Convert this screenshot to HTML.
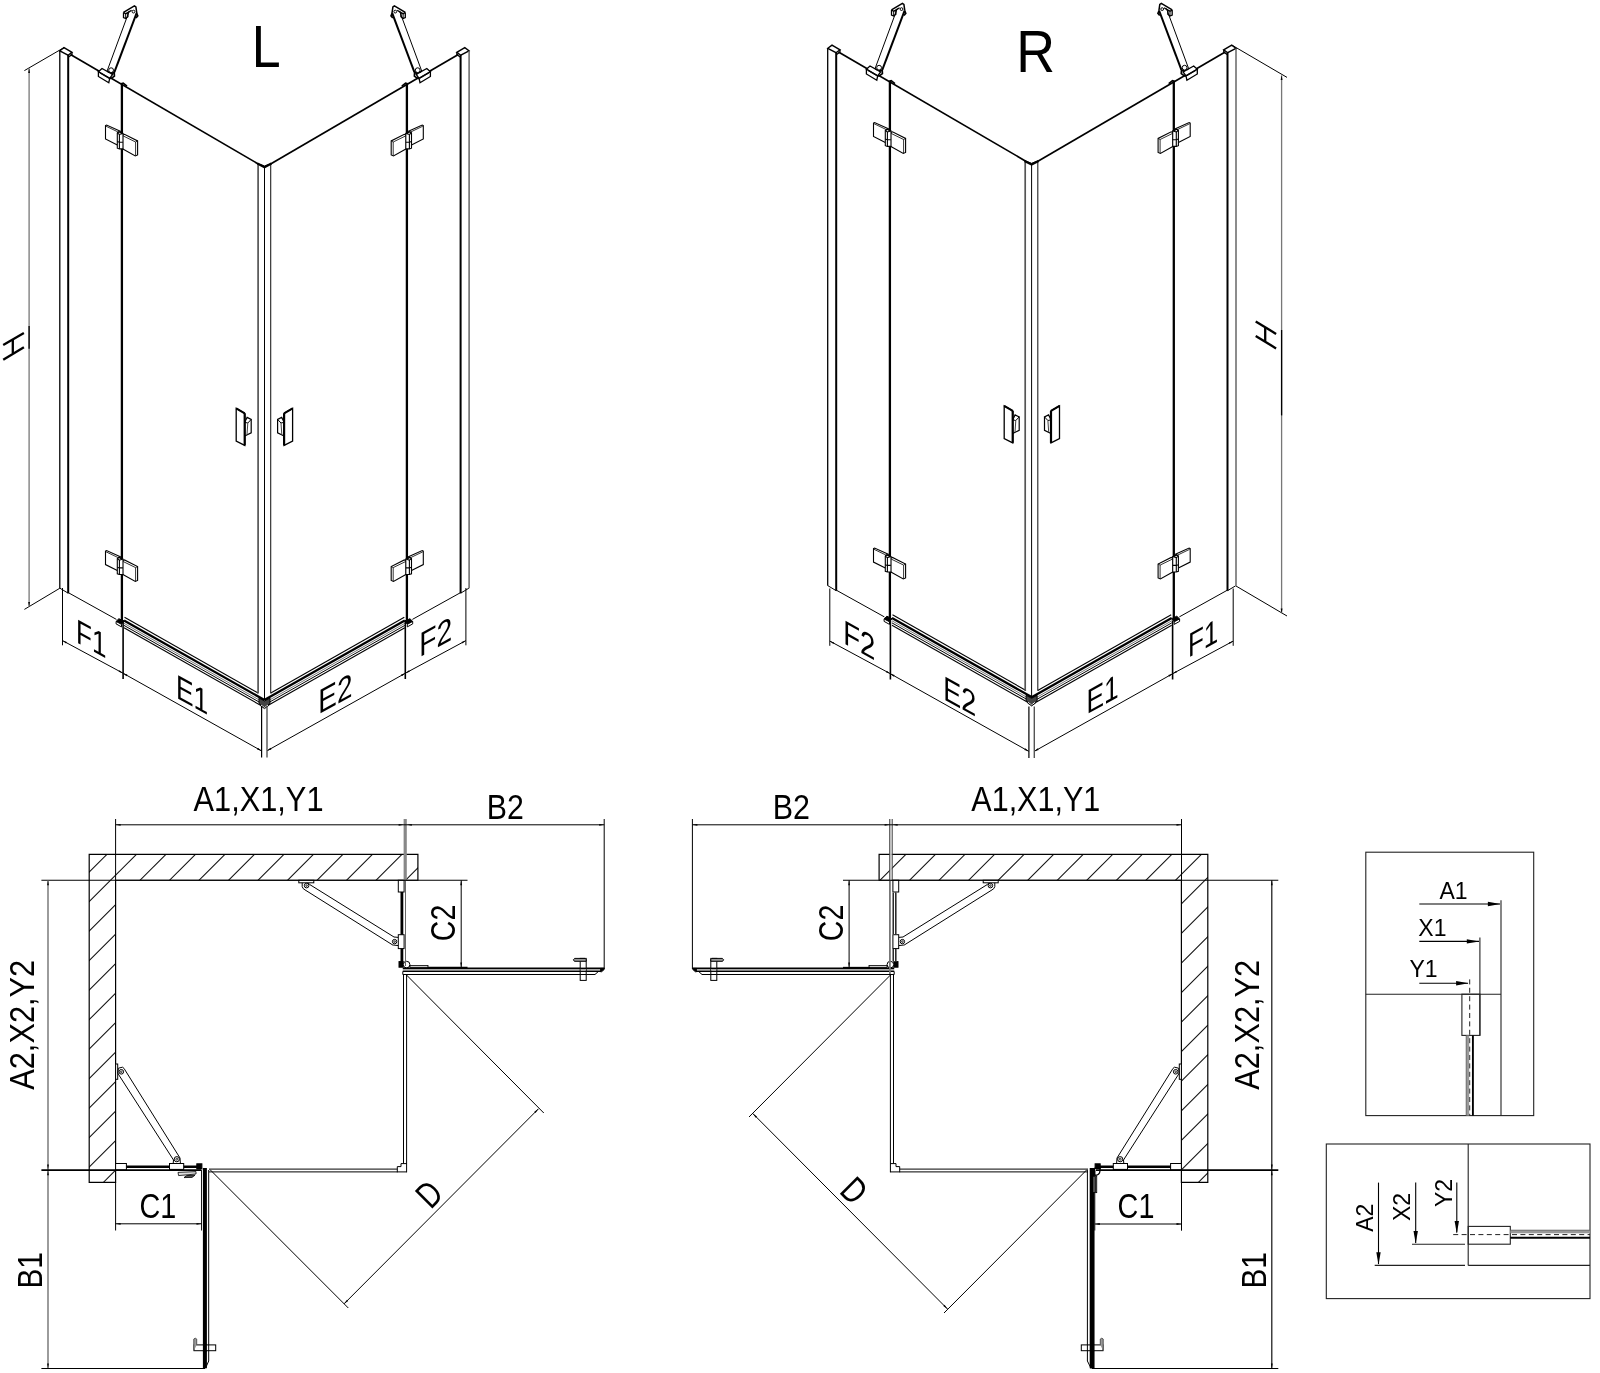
<!DOCTYPE html>
<html><head><meta charset="utf-8"><title>Shower enclosure dimensions</title>
<style>
html,body{margin:0;padding:0;background:#fff;}
body{width:1600px;height:1373px;overflow:hidden;}
svg{display:block;will-change:transform;filter:grayscale(1);}
text{font-family:"Liberation Sans",sans-serif;fill:#000;}
</style></head>
<body>
<svg width="1600" height="1373" viewBox="0 0 1600 1373" fill="none" stroke-linecap="butt" stroke-linejoin="miter">
<rect x="0" y="0" width="1600" height="1373" fill="#fff"/>
<defs>
<g id="isoH"><line x1="68.20" y1="55.00" x2="68.20" y2="593.20" stroke="#000" stroke-width="2.0" /><path d="M59.90 588.20 L68.20 593.20" stroke="#000" stroke-width="1.0" fill="none" /><path d="M59.80 50.80 L64.00 47.60 L72.00 52.40 L68.00 55.20 Z" stroke="#000" stroke-width="1.4" fill="none" /><path d="M72.00 52.40 L72.00 54.60 L68.20 57.20" stroke="#000" stroke-width="1.2" fill="none" /><line x1="70.50" y1="54.60" x2="258.20" y2="163.90" stroke="#000" stroke-width="1.7" /><line x1="121.90" y1="83.60" x2="121.90" y2="620.50" stroke="#000" stroke-width="2.3" /><path d="M121.00 83.80 L123.20 83.20 L127.00 86.20" stroke="#000" stroke-width="1.6" fill="none" /><line x1="68.20" y1="592.60" x2="116.40" y2="619.40" stroke="#000" stroke-width="1.0" /><path d="M116.10 621.40 L118.90 618.70 L124.00 621.20 L121.50 624.30 Z" stroke="#000" stroke-width="1.0" fill="#000" /><path d="M116.10 621.40 L116.10 623.90 L121.50 626.90 L121.50 624.30" stroke="#000" stroke-width="1.0" fill="none" /><line x1="124.50" y1="617.30" x2="258.00" y2="692.99" stroke="#000" stroke-width="1.1" /><line x1="124.00" y1="620.42" x2="264.50" y2="700.08" stroke="#000" stroke-width="2.3" /><line x1="124.00" y1="623.32" x2="264.50" y2="702.98" stroke="#777" stroke-width="1.0" /><line x1="124.00" y1="625.42" x2="264.50" y2="705.08" stroke="#000" stroke-width="1.0" /><line x1="124.00" y1="627.82" x2="264.50" y2="707.48" stroke="#000" stroke-width="1.1" /><path d="M120.90 131.50 L106.60 125.00 L105.50 125.60 L105.50 139.00 L117.30 145.00" stroke="#000" stroke-width="1.1" fill="none" /><path d="M106.00 126.20 L117.90 131.90" stroke="#000" stroke-width="0.8" fill="none" /><path d="M117.30 133.00 L119.00 131.60 L123.00 133.40 L123.00 148.90 L119.40 148.90 L117.30 148.20 Z" stroke="#000" stroke-width="1.1" fill="#fff" /><path d="M119.40 134.50 L119.40 148.90" stroke="#000" stroke-width="1.1" fill="none" /><path d="M117.30 133.00 L119.00 131.80 L122.50 133.60 L119.40 134.50 L117.30 133.00" stroke="#000" stroke-width="1.1" fill="none" /><path d="M117.30 141.60 L119.40 142.30 L122.90 142.30" stroke="#000" stroke-width="1.1" fill="none" /><path d="M122.90 148.90 L135.30 155.90 L137.60 154.90 L137.60 140.90 L124.50 134.30 L123.10 134.90" stroke="#000" stroke-width="1.1" fill="none" /><path d="M123.10 135.90 L135.60 142.00 L135.60 155.60" stroke="#000" stroke-width="0.8" fill="none" /><path d="M135.60 142.00 L137.60 140.90" stroke="#000" stroke-width="0.8" fill="none" /><g transform="translate(0,425.6)"><path d="M120.90 131.50 L106.60 125.00 L105.50 125.60 L105.50 139.00 L117.30 145.00" stroke="#000" stroke-width="1.1" fill="none" /><path d="M106.00 126.20 L117.90 131.90" stroke="#000" stroke-width="0.8" fill="none" /><path d="M117.30 133.00 L119.00 131.60 L123.00 133.40 L123.00 148.90 L119.40 148.90 L117.30 148.20 Z" stroke="#000" stroke-width="1.1" fill="#fff" /><path d="M119.40 134.50 L119.40 148.90" stroke="#000" stroke-width="1.1" fill="none" /><path d="M117.30 133.00 L119.00 131.80 L122.50 133.60 L119.40 134.50 L117.30 133.00" stroke="#000" stroke-width="1.1" fill="none" /><path d="M117.30 141.60 L119.40 142.30 L122.90 142.30" stroke="#000" stroke-width="1.1" fill="none" /><path d="M122.90 148.90 L135.30 155.90 L137.60 154.90 L137.60 140.90 L124.50 134.30 L123.10 134.90" stroke="#000" stroke-width="1.1" fill="none" /><path d="M123.10 135.90 L135.60 142.00 L135.60 155.60" stroke="#000" stroke-width="0.8" fill="none" /><path d="M135.60 142.00 L137.60 140.90" stroke="#000" stroke-width="0.8" fill="none" /></g><line x1="107.10" y1="71.00" x2="129.30" y2="10.90" stroke="#000" stroke-width="1.0" /><line x1="114.40" y1="72.10" x2="136.60" y2="13.10" stroke="#000" stroke-width="2.0" /><path d="M123.50 12.40 L134.40 5.80 L135.90 6.90 L136.80 13.20" stroke="#000" stroke-width="1.5" fill="none" /><path d="M123.50 12.40 L123.50 17.50 L125.70 18.60 L127.90 16.80 L127.90 12.60 L125.70 13.70 L123.50 12.40" stroke="#000" stroke-width="1.3" fill="none" /><path d="M125.70 13.70 L125.70 18.60" stroke="#000" stroke-width="1.0" fill="none" /><path d="M127.90 12.60 L131.60 10.20" stroke="#000" stroke-width="1.3" fill="none" /><circle cx="133.50" cy="11.60" r="1.4" stroke="#000" stroke-width="1.0" fill="none"/><path d="M136.60 13.10 L137.80 15.80 L136.00 18.00" stroke="#000" stroke-width="1.6" fill="none" /><path d="M98.40 71.70 L102.00 68.50 L112.60 74.40 L109.70 78.30 Z" stroke="#000" stroke-width="1.3" fill="#fff" /><path d="M98.40 71.70 L98.40 76.50 L108.80 82.70 L109.70 78.30 Z" stroke="#000" stroke-width="1.3" fill="#fff" /><path d="M99.80 73.00 L109.20 78.60" stroke="#000" stroke-width="0.9" fill="none" /><circle cx="111.10" cy="70.20" r="2.4" stroke="#000" stroke-width="1.0" fill="none"/><path d="M107.10 71.00 L109.00 72.40" stroke="#000" stroke-width="1.2" fill="none" /><path d="M111.10 73.60 L114.20 72.40 L114.40 76.20 L111.60 78.20 L109.70 78.30" stroke="#000" stroke-width="1.7" fill="none" /><path d="M236.20 408.40 L244.70 413.30 L244.70 445.40 L236.20 441.00 Z" stroke="#000" stroke-width="1.3" fill="none" /><line x1="244.70" y1="413.30" x2="244.70" y2="445.40" stroke="#000" stroke-width="2.2" /><path d="M236.20 408.40 L244.70 413.30" stroke="#000" stroke-width="2.0" fill="none" /><path d="M244.70 422.20 L247.10 417.40 L251.20 419.40 L251.20 432.80 L244.70 436.00" stroke="#000" stroke-width="1.2" fill="none" /><path d="M245.00 422.40 L247.80 423.00 L251.20 419.40" stroke="#000" stroke-width="1.0" fill="none" /><path d="M247.80 423.00 L247.00 434.60" stroke="#444" stroke-width="1.0" fill="none" /></g>
<g id="isoDH"><line x1="62.50" y1="588.00" x2="62.50" y2="645.30" stroke="#000" stroke-width="1.0" /><line x1="123.10" y1="620.00" x2="123.10" y2="679.00" stroke="#000" stroke-width="1.6" /><line x1="62.50" y1="640.60" x2="123.00" y2="673.20" stroke="#000" stroke-width="1.0" /><path d="M62.50 640.60 L66.89 641.94 L66.04 643.53 Z" fill="#000"/><path d="M123.00 673.20 L118.61 671.86 L119.46 670.27 Z" fill="#000"/><line x1="123.00" y1="673.20" x2="261.40" y2="750.80" stroke="#000" stroke-width="1.0" /><path d="M123.00 673.20 L127.36 674.62 L126.48 676.19 Z" fill="#000"/><path d="M261.40 750.80 L257.04 749.38 L257.92 747.81 Z" fill="#000"/></g>
<g id="isoHM"><use href="#isoH" transform="translate(528.8,0) scale(-1,1)"/></g>
<g id="isoC"><line x1="258.10" y1="164.00" x2="258.10" y2="693.50" stroke="#555" stroke-width="1.7" /><line x1="264.50" y1="167.00" x2="264.50" y2="700.00" stroke="#000" stroke-width="1.0" /><line x1="270.70" y1="164.00" x2="270.70" y2="693.50" stroke="#222" stroke-width="1.1" /><path d="M257.40 163.60 L264.50 167.20 L271.40 163.60" stroke="#000" stroke-width="2.2" fill="none" /><path d="M259.50 164.00 L264.50 166.00 L269.50 164.00" stroke="#000" stroke-width="1.0" fill="none" /><path d="M259.00 698.00 L264.50 701.00 L270.00 698.00 L270.00 703.60 L264.50 707.40 L259.00 703.60 Z" stroke="#000" stroke-width="1.0" fill="#444" /><path d="M261.00 705.00 L264.50 707.60 L268.00 705.00" stroke="#fff" stroke-width="1.0" fill="none" /><path d="M260.40 705.60 L264.50 708.60 L268.60 705.60" stroke="#000" stroke-width="1.0" fill="none" /></g>
<g id="isoG"><use href="#isoH"/><use href="#isoHM"/><use href="#isoC"/></g>
<g id="isoD"><use href="#isoDH"/><use href="#isoDH" transform="translate(528.4,0) scale(-1,1)"/><line x1="261.60" y1="706.00" x2="261.60" y2="757.50" stroke="#000" stroke-width="1.2" /><line x1="267.00" y1="706.00" x2="267.00" y2="757.50" stroke="#555" stroke-width="1.4" /></g>
</defs>
<use href="#isoG"/>
<use href="#isoD"/>
<use href="#isoH" transform="translate(768.0,-2.5)"/>
<use href="#isoHM" transform="translate(766.9,-2.5)"/>
<use href="#isoC" transform="translate(767.1,-2.7)"/>
<use href="#isoD" transform="translate(767.3,0.5)"/>
<line x1="59.80" y1="51.00" x2="59.80" y2="588.20" stroke="#000" stroke-width="1.3" />
<line x1="469.10" y1="51.00" x2="469.10" y2="588.20" stroke="#666" stroke-width="1.5" />
<line x1="827.70" y1="48.50" x2="827.70" y2="585.80" stroke="#000" stroke-width="1.3" />
<line x1="1236.00" y1="48.50" x2="1236.00" y2="585.80" stroke="#666" stroke-width="1.5" />
<line x1="64.00" y1="47.60" x2="24.40" y2="70.60" stroke="#000" stroke-width="1.0" />
<line x1="59.90" y1="588.20" x2="24.40" y2="609.40" stroke="#000" stroke-width="1.0" />
<line x1="29.10" y1="68.50" x2="29.10" y2="606.50" stroke="#777" stroke-width="1.3" />
<line x1="29.10" y1="326.00" x2="29.10" y2="348.70" stroke="#000" stroke-width="1.3" />
<path d="M29.10 68.00 L30.00 73.00 L28.20 73.00 Z" fill="#000"/>
<path d="M29.10 607.00 L28.20 602.00 L30.00 602.00 Z" fill="#000"/>
<path d="M3.20 344.90 L23.90 333.00" stroke="#000" stroke-width="2.3" fill="none" />
<path d="M3.20 359.70 L23.90 347.20" stroke="#000" stroke-width="2.3" fill="none" />
<path d="M12.80 340.00 L12.80 353.00" stroke="#000" stroke-width="2.3" fill="none" />
<line x1="1232.00" y1="45.20" x2="1287.00" y2="77.40" stroke="#000" stroke-width="1.0" />
<line x1="1236.00" y1="586.00" x2="1287.00" y2="616.00" stroke="#000" stroke-width="1.0" />
<line x1="1281.60" y1="75.50" x2="1281.60" y2="613.00" stroke="#777" stroke-width="1.3" />
<line x1="1281.60" y1="330.00" x2="1281.60" y2="415.40" stroke="#000" stroke-width="1.3" />
<path d="M1281.60 75.00 L1282.50 80.00 L1280.70 80.00 Z" fill="#000"/>
<path d="M1281.60 613.40 L1280.70 608.40 L1282.50 608.40 Z" fill="#000"/>
<path d="M1255.70 321.50 L1276.10 333.90" stroke="#000" stroke-width="2.3" fill="none" />
<path d="M1255.70 336.00 L1276.10 348.40" stroke="#000" stroke-width="2.3" fill="none" />
<path d="M1265.20 327.70 L1265.20 341.20" stroke="#000" stroke-width="2.3" fill="none" />
<text font-size="59" transform="translate(251.8,67) scale(0.88,1)">L</text>
<text font-size="59" transform="translate(1016.2,72) scale(0.91,1)">R</text>
<text font-size="34" transform="matrix(0.765 0.421 0 1 76.00 642.00)">F1</text>
<text font-size="34" transform="matrix(0.775 0.426 0 1 176.00 697.50)">E1</text>
<text font-size="34" transform="matrix(0.82 -0.451 0 1 318.30 714.50)">E2</text>
<text font-size="34" transform="matrix(0.83 -0.457 0 1 419.20 657.50)">F2</text>
<text font-size="34" transform="matrix(0.81 0.446 0 1 843.30 643.00)">F2</text>
<text font-size="34" transform="matrix(0.79 0.435 0 1 943.30 699.00)">E2</text>
<text font-size="34" transform="matrix(0.775 -0.426 0 1 1086.40 714.50)">E1</text>
<text font-size="34" transform="matrix(0.765 -0.421 0 1 1187.90 658.00)">F1</text>
<defs>
<g id="planG"><path d="M89.20 854.40 L417.90 854.40 L417.90 880.25 L115.60 880.25 L115.60 1182.40 L89.20 1182.40 Z" stroke="#000" stroke-width="1.2" fill="none" /><rect x="398.30" y="880.25" width="5.80" height="11.75" stroke="#000" stroke-width="1.0" fill="#fff"/><line x1="401.90" y1="892.00" x2="401.90" y2="963.00" stroke="#000" stroke-width="2.8" /><rect x="298.80" y="880.25" width="15.00" height="2.55" stroke="#000" stroke-width="1.0" fill="#fff"/><circle cx="306.60" cy="885.60" r="2.3" stroke="#000" stroke-width="1.0" fill="none"/><circle cx="306.60" cy="885.60" r="0.8" stroke="#000" stroke-width="0.8" fill="none"/><line x1="309.50" y1="884.40" x2="394.00" y2="937.00" stroke="#000" stroke-width="1.0" /><line x1="305.00" y1="889.90" x2="393.20" y2="945.30" stroke="#000" stroke-width="1.0" /><path d="M309.50 884.40 L308.00 882.80" stroke="#000" stroke-width="1.0" fill="none" /><path d="M302.20 882.80 L302.20 886.60 L303.20 888.60 L305.00 889.90" stroke="#000" stroke-width="1.0" fill="none" /><circle cx="394.60" cy="941.60" r="2.2" stroke="#000" stroke-width="1.0" fill="none"/><circle cx="394.60" cy="941.60" r="0.8" stroke="#000" stroke-width="0.8" fill="none"/><path d="M394.00 937.00 L398.30 937.40" stroke="#000" stroke-width="1.0" fill="none" /><path d="M393.20 945.00 L398.30 945.60" stroke="#000" stroke-width="1.0" fill="none" /><rect x="398.30" y="934.70" width="5.80" height="13.90" stroke="#000" stroke-width="1.0" fill="#fff"/><rect x="399.00" y="961.60" width="4.20" height="5.60" stroke="#000" stroke-width="1.0" fill="#000"/><circle cx="406.60" cy="964.60" r="3.3" stroke="#000" stroke-width="1.0" fill="#fff"/><rect x="410.00" y="965.60" width="18.00" height="1.80" stroke="#000" stroke-width="0.8" fill="#ccc"/><rect x="402.80" y="968.40" width="199.20" height="2.80" stroke="none" stroke-width="0" fill="#aaa"/><line x1="402.80" y1="968.30" x2="604.40" y2="968.30" stroke="#000" stroke-width="1.4" /><line x1="402.80" y1="971.30" x2="601.00" y2="971.30" stroke="#000" stroke-width="1.3" /><path d="M402.80 971.50 L402.80 974.50 L595.00 974.50 L598.00 971.80" stroke="#000" stroke-width="1.0" fill="none" /><path d="M600.50 968.40 L604.20 968.40 L604.20 969.60 L601.60 971.80 L600.50 971.80 Z" stroke="#000" stroke-width="0.8" fill="#000" /><rect x="580.20" y="958.40" width="6.00" height="22.00" stroke="#000" stroke-width="1.0" fill="#fff"/><path d="M580.20 961.30 L574.40 961.30 L573.40 959.80 L574.60 958.40 L585.00 958.40 L586.20 959.60 L586.20 961.30 Z" stroke="#000" stroke-width="1.0" fill="#999" /><line x1="580.20" y1="968.30" x2="586.20" y2="968.30" stroke="#000" stroke-width="1.4" /><line x1="580.20" y1="971.30" x2="586.20" y2="971.30" stroke="#000" stroke-width="1.3" /><line x1="580.20" y1="974.50" x2="586.20" y2="974.50" stroke="#000" stroke-width="1.0" /><rect x="580.80" y="969.00" width="4.80" height="1.60" stroke="none" stroke-width="0" fill="#aaa"/><line x1="403.50" y1="974.00" x2="403.50" y2="1163.60" stroke="#000" stroke-width="1.0" /><line x1="406.60" y1="974.00" x2="406.60" y2="1172.30" stroke="#000" stroke-width="1.0" /><line x1="209.00" y1="1169.10" x2="397.30" y2="1169.10" stroke="#000" stroke-width="1.0" /><line x1="209.00" y1="1171.90" x2="406.80" y2="1171.90" stroke="#000" stroke-width="1.0" /><path d="M397.30 1172.30 L397.30 1166.60 L401.00 1166.60 L401.00 1163.60 L406.80 1163.60" stroke="#000" stroke-width="1.0" fill="none" /><rect x="115.60" y="1163.50" width="10.80" height="6.50" stroke="#000" stroke-width="1.0" fill="#fff"/><line x1="126.40" y1="1166.80" x2="197.50" y2="1166.80" stroke="#000" stroke-width="2.6" /><rect x="115.60" y="1064.00" width="2.10" height="15.30" stroke="#000" stroke-width="1.0" fill="#fff"/><circle cx="121.30" cy="1071.80" r="2.3" stroke="#000" stroke-width="1.0" fill="none"/><circle cx="121.30" cy="1071.80" r="0.8" stroke="#000" stroke-width="0.8" fill="none"/><line x1="124.00" y1="1068.40" x2="180.00" y2="1158.00" stroke="#000" stroke-width="1.0" /><line x1="118.90" y1="1075.00" x2="173.50" y2="1160.00" stroke="#000" stroke-width="1.0" /><path d="M124.00 1068.40 L122.50 1067.20 L118.40 1068.20 L117.80 1073.00 L118.90 1075.00" stroke="#000" stroke-width="1.0" fill="none" /><circle cx="176.80" cy="1159.20" r="2.6" stroke="#000" stroke-width="1.0" fill="none"/><circle cx="176.80" cy="1159.20" r="1.0" stroke="#000" stroke-width="0.8" fill="none"/><path d="M180.00 1158.00 L180.40 1163.50" stroke="#000" stroke-width="1.0" fill="none" /><path d="M173.50 1160.00 L173.20 1163.50" stroke="#000" stroke-width="1.0" fill="none" /><rect x="169.50" y="1163.50" width="14.20" height="5.90" stroke="#000" stroke-width="1.0" fill="#fff"/><rect x="196.80" y="1163.80" width="5.10" height="5.20" stroke="#000" stroke-width="1.0" fill="#000"/><line x1="204.90" y1="1168.00" x2="204.90" y2="1368.20" stroke="#000" stroke-width="4.0" /><rect x="194.00" y="1344.90" width="21.70" height="5.80" stroke="#000" stroke-width="1.0" fill="#fff"/><line x1="204.90" y1="1344.00" x2="204.90" y2="1351.60" stroke="#000" stroke-width="4.0" /><path d="M193.80 1350.70 L193.80 1339.00 L195.20 1338.20 L196.70 1339.00 L196.70 1344.90" stroke="#555" stroke-width="1.0" fill="#999" /></g>
<clipPath id="wallL"><path d="M89 854.4 L417.9 854.4 L417.9 880.25 L115.6 880.25 L115.6 1182.4 L89 1182.4 Z"/></clipPath>
<clipPath id="wallR"><path d="M1208 854.4 L879.1 854.4 L879.1 880.25 L1181.4 880.25 L1181.4 1182.4 L1208 1182.4 Z"/></clipPath>
</defs>
<g clip-path="url(#wallL)"><line x1="-232.70" y1="840.00" x2="-592.70" y2="1200.00" stroke="#111" stroke-width="1.05" /><line x1="-203.20" y1="840.00" x2="-563.20" y2="1200.00" stroke="#111" stroke-width="1.05" /><line x1="-173.70" y1="840.00" x2="-533.70" y2="1200.00" stroke="#111" stroke-width="1.05" /><line x1="-144.20" y1="840.00" x2="-504.20" y2="1200.00" stroke="#111" stroke-width="1.05" /><line x1="-114.70" y1="840.00" x2="-474.70" y2="1200.00" stroke="#111" stroke-width="1.05" /><line x1="-85.20" y1="840.00" x2="-445.20" y2="1200.00" stroke="#111" stroke-width="1.05" /><line x1="-55.70" y1="840.00" x2="-415.70" y2="1200.00" stroke="#111" stroke-width="1.05" /><line x1="-26.20" y1="840.00" x2="-386.20" y2="1200.00" stroke="#111" stroke-width="1.05" /><line x1="3.30" y1="840.00" x2="-356.70" y2="1200.00" stroke="#111" stroke-width="1.05" /><line x1="32.80" y1="840.00" x2="-327.20" y2="1200.00" stroke="#111" stroke-width="1.05" /><line x1="62.30" y1="840.00" x2="-297.70" y2="1200.00" stroke="#111" stroke-width="1.05" /><line x1="91.80" y1="840.00" x2="-268.20" y2="1200.00" stroke="#111" stroke-width="1.05" /><line x1="121.30" y1="840.00" x2="-238.70" y2="1200.00" stroke="#111" stroke-width="1.05" /><line x1="150.80" y1="840.00" x2="-209.20" y2="1200.00" stroke="#111" stroke-width="1.05" /><line x1="180.30" y1="840.00" x2="-179.70" y2="1200.00" stroke="#111" stroke-width="1.05" /><line x1="209.80" y1="840.00" x2="-150.20" y2="1200.00" stroke="#111" stroke-width="1.05" /><line x1="239.30" y1="840.00" x2="-120.70" y2="1200.00" stroke="#111" stroke-width="1.05" /><line x1="268.80" y1="840.00" x2="-91.20" y2="1200.00" stroke="#111" stroke-width="1.05" /><line x1="298.30" y1="840.00" x2="-61.70" y2="1200.00" stroke="#111" stroke-width="1.05" /><line x1="327.80" y1="840.00" x2="-32.20" y2="1200.00" stroke="#111" stroke-width="1.05" /><line x1="357.30" y1="840.00" x2="-2.70" y2="1200.00" stroke="#111" stroke-width="1.05" /><line x1="386.80" y1="840.00" x2="26.80" y2="1200.00" stroke="#111" stroke-width="1.05" /><line x1="416.30" y1="840.00" x2="56.30" y2="1200.00" stroke="#111" stroke-width="1.05" /><line x1="445.80" y1="840.00" x2="85.80" y2="1200.00" stroke="#111" stroke-width="1.05" /><line x1="475.30" y1="840.00" x2="115.30" y2="1200.00" stroke="#111" stroke-width="1.05" /><line x1="504.80" y1="840.00" x2="144.80" y2="1200.00" stroke="#111" stroke-width="1.05" /><line x1="534.30" y1="840.00" x2="174.30" y2="1200.00" stroke="#111" stroke-width="1.05" /><line x1="563.80" y1="840.00" x2="203.80" y2="1200.00" stroke="#111" stroke-width="1.05" /><line x1="593.30" y1="840.00" x2="233.30" y2="1200.00" stroke="#111" stroke-width="1.05" /><line x1="622.80" y1="840.00" x2="262.80" y2="1200.00" stroke="#111" stroke-width="1.05" /><line x1="652.30" y1="840.00" x2="292.30" y2="1200.00" stroke="#111" stroke-width="1.05" /><line x1="681.80" y1="840.00" x2="321.80" y2="1200.00" stroke="#111" stroke-width="1.05" /></g>
<g clip-path="url(#wallR)"><line x1="772.50" y1="840.00" x2="412.50" y2="1200.00" stroke="#111" stroke-width="1.05" /><line x1="802.05" y1="840.00" x2="442.05" y2="1200.00" stroke="#111" stroke-width="1.05" /><line x1="831.60" y1="840.00" x2="471.60" y2="1200.00" stroke="#111" stroke-width="1.05" /><line x1="861.15" y1="840.00" x2="501.15" y2="1200.00" stroke="#111" stroke-width="1.05" /><line x1="890.70" y1="840.00" x2="530.70" y2="1200.00" stroke="#111" stroke-width="1.05" /><line x1="920.25" y1="840.00" x2="560.25" y2="1200.00" stroke="#111" stroke-width="1.05" /><line x1="949.80" y1="840.00" x2="589.80" y2="1200.00" stroke="#111" stroke-width="1.05" /><line x1="979.35" y1="840.00" x2="619.35" y2="1200.00" stroke="#111" stroke-width="1.05" /><line x1="1008.90" y1="840.00" x2="648.90" y2="1200.00" stroke="#111" stroke-width="1.05" /><line x1="1038.45" y1="840.00" x2="678.45" y2="1200.00" stroke="#111" stroke-width="1.05" /><line x1="1068.00" y1="840.00" x2="708.00" y2="1200.00" stroke="#111" stroke-width="1.05" /><line x1="1097.55" y1="840.00" x2="737.55" y2="1200.00" stroke="#111" stroke-width="1.05" /><line x1="1127.10" y1="840.00" x2="767.10" y2="1200.00" stroke="#111" stroke-width="1.05" /><line x1="1156.65" y1="840.00" x2="796.65" y2="1200.00" stroke="#111" stroke-width="1.05" /><line x1="1186.20" y1="840.00" x2="826.20" y2="1200.00" stroke="#111" stroke-width="1.05" /><line x1="1215.75" y1="840.00" x2="855.75" y2="1200.00" stroke="#111" stroke-width="1.05" /><line x1="1245.30" y1="840.00" x2="885.30" y2="1200.00" stroke="#111" stroke-width="1.05" /><line x1="1274.85" y1="840.00" x2="914.85" y2="1200.00" stroke="#111" stroke-width="1.05" /><line x1="1304.40" y1="840.00" x2="944.40" y2="1200.00" stroke="#111" stroke-width="1.05" /><line x1="1333.95" y1="840.00" x2="973.95" y2="1200.00" stroke="#111" stroke-width="1.05" /><line x1="1363.50" y1="840.00" x2="1003.50" y2="1200.00" stroke="#111" stroke-width="1.05" /><line x1="1393.05" y1="840.00" x2="1033.05" y2="1200.00" stroke="#111" stroke-width="1.05" /><line x1="1422.60" y1="840.00" x2="1062.60" y2="1200.00" stroke="#111" stroke-width="1.05" /><line x1="1452.15" y1="840.00" x2="1092.15" y2="1200.00" stroke="#111" stroke-width="1.05" /><line x1="1481.70" y1="840.00" x2="1121.70" y2="1200.00" stroke="#111" stroke-width="1.05" /><line x1="1511.25" y1="840.00" x2="1151.25" y2="1200.00" stroke="#111" stroke-width="1.05" /><line x1="1540.80" y1="840.00" x2="1180.80" y2="1200.00" stroke="#111" stroke-width="1.05" /><line x1="1570.35" y1="840.00" x2="1210.35" y2="1200.00" stroke="#111" stroke-width="1.05" /><line x1="1599.90" y1="840.00" x2="1239.90" y2="1200.00" stroke="#111" stroke-width="1.05" /><line x1="1629.45" y1="840.00" x2="1269.45" y2="1200.00" stroke="#111" stroke-width="1.05" /><line x1="1659.00" y1="840.00" x2="1299.00" y2="1200.00" stroke="#111" stroke-width="1.05" /><line x1="1688.55" y1="840.00" x2="1328.55" y2="1200.00" stroke="#111" stroke-width="1.05" /></g>
<use href="#planG"/>
<use href="#planG" transform="translate(1297.0,0) scale(-1,1)"/>
<line x1="405.50" y1="880.30" x2="405.50" y2="966.00" stroke="#666" stroke-width="1.0" />
<path d="M208.70 1170.00 L208.70 1361.00 L205.50 1368.20" stroke="#000" stroke-width="1.0" fill="none" />
<path d="M178.00 1172.40 L196.00 1171.60 L196.00 1174.00 L178.60 1175.60 Z" stroke="#000" stroke-width="0.8" fill="#ddd" />
<path d="M184.00 1177.60 L186.60 1175.60 L195.00 1175.20 L192.00 1177.40 Z" stroke="#000" stroke-width="0.8" fill="#555" />
<line x1="201.50" y1="1170.00" x2="201.50" y2="1230.50" stroke="#000" stroke-width="0.9" />
<line x1="894.60" y1="892.50" x2="894.60" y2="934.20" stroke="#fff" stroke-width="4.4" />
<line x1="893.20" y1="892.50" x2="893.20" y2="934.20" stroke="#000" stroke-width="1.25" />
<line x1="895.80" y1="892.50" x2="895.80" y2="934.20" stroke="#000" stroke-width="1.25" />
<line x1="894.60" y1="949.10" x2="894.60" y2="961.20" stroke="#fff" stroke-width="4.4" />
<line x1="893.20" y1="949.10" x2="893.20" y2="961.20" stroke="#000" stroke-width="1.25" />
<line x1="895.80" y1="949.10" x2="895.80" y2="961.20" stroke="#000" stroke-width="1.25" />
<line x1="889.90" y1="880.30" x2="889.90" y2="974.00" stroke="#777" stroke-width="1.8" />
<path d="M1087.40 1170.00 L1087.40 1361.00 L1091.00 1368.20" stroke="#000" stroke-width="1.0" fill="none" />
<line x1="1092.10" y1="1168.00" x2="1092.10" y2="1368.20" stroke="#000" stroke-width="4.8" />
<path d="M1094.6 1168.4 L1099.9 1168.4 L1099.9 1171.2 A4.2 4.2 0 0 1 1095.2 1175.2 L1094.6 1175.2 Z" stroke="#000" stroke-width="1.3" fill="#fff"/>
<rect x="1093.20" y="1176.20" width="3.50" height="16.40" stroke="#000" stroke-width="0.9" fill="#fff"/>
<line x1="1095.60" y1="1176.20" x2="1095.60" y2="1192.60" stroke="#333" stroke-width="1.6" />
<line x1="115.60" y1="819.00" x2="115.60" y2="880.30" stroke="#000" stroke-width="1.0" />
<line x1="405.20" y1="819.00" x2="405.20" y2="880.30" stroke="#888" stroke-width="3.2" />
<line x1="604.20" y1="819.00" x2="604.20" y2="969.00" stroke="#000" stroke-width="1.0" />
<line x1="115.60" y1="824.80" x2="604.20" y2="824.80" stroke="#000" stroke-width="1.0" />
<path d="M115.60 824.80 L120.60 823.90 L120.60 825.70 Z" fill="#000"/>
<path d="M403.60 824.80 L398.60 825.70 L398.60 823.90 Z" fill="#000"/>
<path d="M406.80 824.80 L411.80 823.90 L411.80 825.70 Z" fill="#000"/>
<path d="M604.20 824.80 L599.20 825.70 L599.20 823.90 Z" fill="#000"/>
<line x1="41.40" y1="880.25" x2="467.50" y2="880.25" stroke="#000" stroke-width="1.1" />
<line x1="461.20" y1="880.30" x2="461.20" y2="967.60" stroke="#000" stroke-width="1.0" />
<path d="M461.20 880.30 L462.10 885.30 L460.30 885.30 Z" fill="#000"/>
<path d="M461.20 967.60 L460.30 962.60 L462.10 962.60 Z" fill="#000"/>
<line x1="427.40" y1="967.60" x2="467.50" y2="967.60" stroke="#000" stroke-width="1.5" />
<line x1="48.00" y1="880.30" x2="48.00" y2="1368.50" stroke="#666" stroke-width="1.3" />
<path d="M48.00 880.30 L48.90 885.30 L47.10 885.30 Z" fill="#000"/>
<path d="M48.00 1169.60 L47.10 1164.60 L48.90 1164.60 Z" fill="#000"/>
<path d="M48.00 1170.20 L48.90 1175.20 L47.10 1175.20 Z" fill="#000"/>
<path d="M48.00 1368.50 L47.10 1363.50 L48.90 1363.50 Z" fill="#000"/>
<line x1="41.40" y1="1170.10" x2="201.00" y2="1170.10" stroke="#000" stroke-width="1.6" />
<line x1="41.40" y1="1368.50" x2="205.00" y2="1368.50" stroke="#000" stroke-width="1.0" />
<line x1="115.60" y1="1182.40" x2="115.60" y2="1230.50" stroke="#000" stroke-width="1.0" />
<line x1="115.60" y1="1223.80" x2="201.50" y2="1223.80" stroke="#000" stroke-width="1.0" />
<path d="M115.60 1223.80 L120.60 1222.90 L120.60 1224.70 Z" fill="#000"/>
<path d="M201.50 1223.80 L196.50 1224.70 L196.50 1222.90 Z" fill="#000"/>
<line x1="406.30" y1="974.80" x2="543.80" y2="1113.00" stroke="#000" stroke-width="1.0" />
<line x1="210.00" y1="1169.60" x2="348.30" y2="1308.00" stroke="#000" stroke-width="1.0" />
<line x1="538.50" y1="1108.80" x2="344.10" y2="1303.80" stroke="#000" stroke-width="1.0" />
<path d="M538.50 1108.80 L535.60 1112.97 L534.33 1111.70 Z" fill="#000"/>
<path d="M344.10 1303.80 L347.00 1299.63 L348.27 1300.90 Z" fill="#000"/>
<line x1="1181.50" y1="819.00" x2="1181.50" y2="880.30" stroke="#000" stroke-width="1.0" />
<line x1="889.60" y1="819.00" x2="889.60" y2="880.30" stroke="#444" stroke-width="0.9" />
<line x1="892.30" y1="819.00" x2="892.30" y2="880.30" stroke="#444" stroke-width="0.9" />
<line x1="890.95" y1="819.00" x2="890.95" y2="880.30" stroke="#bbb" stroke-width="1.8" />
<line x1="692.40" y1="819.00" x2="692.40" y2="969.00" stroke="#000" stroke-width="1.0" />
<line x1="692.40" y1="824.80" x2="1181.50" y2="824.80" stroke="#000" stroke-width="1.0" />
<path d="M692.40 824.80 L697.40 823.90 L697.40 825.70 Z" fill="#000"/>
<path d="M889.60 824.80 L884.60 825.70 L884.60 823.90 Z" fill="#000"/>
<path d="M892.60 824.80 L897.60 823.90 L897.60 825.70 Z" fill="#000"/>
<path d="M1181.50 824.80 L1176.50 825.70 L1176.50 823.90 Z" fill="#000"/>
<line x1="843.00" y1="880.25" x2="1278.30" y2="880.25" stroke="#000" stroke-width="1.1" />
<line x1="849.10" y1="880.30" x2="849.10" y2="967.60" stroke="#000" stroke-width="1.0" />
<path d="M849.10 880.30 L850.00 885.30 L848.20 885.30 Z" fill="#000"/>
<path d="M849.10 967.60 L848.20 962.60 L850.00 962.60 Z" fill="#000"/>
<line x1="843.00" y1="967.60" x2="870.00" y2="967.60" stroke="#000" stroke-width="1.5" />
<line x1="1271.80" y1="880.30" x2="1271.80" y2="1368.50" stroke="#111" stroke-width="1.2" />
<path d="M1271.80 880.30 L1272.70 885.30 L1270.90 885.30 Z" fill="#000"/>
<path d="M1271.80 1169.60 L1270.90 1164.60 L1272.70 1164.60 Z" fill="#000"/>
<path d="M1271.80 1170.20 L1272.70 1175.20 L1270.90 1175.20 Z" fill="#000"/>
<path d="M1271.80 1368.50 L1270.90 1363.50 L1272.70 1363.50 Z" fill="#000"/>
<line x1="1096.00" y1="1170.10" x2="1278.30" y2="1170.10" stroke="#000" stroke-width="1.6" />
<line x1="1092.00" y1="1368.50" x2="1278.30" y2="1368.50" stroke="#000" stroke-width="1.0" />
<line x1="1181.50" y1="1182.40" x2="1181.50" y2="1230.70" stroke="#000" stroke-width="1.0" />
<line x1="1094.80" y1="1224.00" x2="1181.50" y2="1224.00" stroke="#000" stroke-width="1.0" />
<path d="M1094.80 1224.00 L1099.80 1223.10 L1099.80 1224.90 Z" fill="#000"/>
<path d="M1181.50 1224.00 L1176.50 1224.90 L1176.50 1223.10 Z" fill="#000"/>
<line x1="1094.80" y1="1170.00" x2="1094.80" y2="1230.50" stroke="#000" stroke-width="0.9" />
<line x1="890.70" y1="974.80" x2="749.00" y2="1117.00" stroke="#000" stroke-width="1.0" />
<line x1="1087.00" y1="1169.60" x2="944.00" y2="1313.00" stroke="#000" stroke-width="1.0" />
<line x1="752.80" y1="1113.50" x2="947.50" y2="1309.00" stroke="#000" stroke-width="1.0" />
<path d="M752.80 1113.50 L756.97 1116.40 L755.70 1117.67 Z" fill="#000"/>
<path d="M947.50 1309.00 L943.33 1306.10 L944.60 1304.83 Z" fill="#000"/>
<text x="193.50" y="811.20" font-size="34.5" textLength="130.00" lengthAdjust="spacingAndGlyphs" >A1,X1,Y1</text>
<text x="486.80" y="818.60" font-size="34.5" textLength="37.00" lengthAdjust="spacingAndGlyphs" >B2</text>
<text x="0.00" y="0.00" font-size="34.5" textLength="130.00" lengthAdjust="spacingAndGlyphs" transform="translate(34.2,1089.8) rotate(-90)" >A2,X2,Y2</text>
<text x="0.00" y="0.00" font-size="34.5" textLength="36.50" lengthAdjust="spacingAndGlyphs" transform="translate(41.9,1288.6) rotate(-90)" >B1</text>
<text x="139.40" y="1217.60" font-size="34.5" textLength="36.80" lengthAdjust="spacingAndGlyphs" >C1</text>
<text x="0.00" y="0.00" font-size="34.5" textLength="36.50" lengthAdjust="spacingAndGlyphs" transform="translate(455.0,941.2) rotate(-90)" >C2</text>
<text x="0.00" y="0.00" font-size="36" textLength="20.20" lengthAdjust="spacingAndGlyphs" transform="translate(430.7,1210.0) rotate(-45)" >D</text>
<text x="772.70" y="818.50" font-size="34.5" textLength="37.20" lengthAdjust="spacingAndGlyphs" >B2</text>
<text x="971.30" y="811.20" font-size="34.5" textLength="129.00" lengthAdjust="spacingAndGlyphs" >A1,X1,Y1</text>
<text x="0.00" y="0.00" font-size="34.5" textLength="130.00" lengthAdjust="spacingAndGlyphs" transform="translate(1258.5,1089.8) rotate(-90)" >A2,X2,Y2</text>
<text x="0.00" y="0.00" font-size="34.5" textLength="36.50" lengthAdjust="spacingAndGlyphs" transform="translate(1266.0,1288.6) rotate(-90)" >B1</text>
<text x="1117.60" y="1217.70" font-size="34.5" textLength="36.80" lengthAdjust="spacingAndGlyphs" >C1</text>
<text x="0.00" y="0.00" font-size="34.5" textLength="36.50" lengthAdjust="spacingAndGlyphs" transform="translate(843.0,941.2) rotate(-90)" >C2</text>
<text x="0.00" y="0.00" font-size="36" textLength="20.20" lengthAdjust="spacingAndGlyphs" transform="translate(838.3,1192.3) rotate(45)" >D</text>
<rect x="1365.80" y="852.20" width="167.90" height="263.40" stroke="#222" stroke-width="1.1" fill="none"/>
<line x1="1365.80" y1="994.20" x2="1501.00" y2="994.20" stroke="#222" stroke-width="1.1" />
<line x1="1501.00" y1="900.20" x2="1501.00" y2="1115.60" stroke="#222" stroke-width="1.1" />
<line x1="1419.30" y1="904.00" x2="1500.00" y2="904.00" stroke="#000" stroke-width="1.1" />
<path d="M1500.40 904.00 L1487.90 906.20 L1487.90 901.80 Z" fill="#000"/>
<line x1="1479.90" y1="937.60" x2="1479.90" y2="1035.40" stroke="#222" stroke-width="1.1" />
<line x1="1419.30" y1="941.40" x2="1479.00" y2="941.40" stroke="#000" stroke-width="1.1" />
<path d="M1479.30 941.40 L1466.80 943.60 L1466.80 939.20 Z" fill="#000"/>
<line x1="1469.70" y1="979.40" x2="1469.70" y2="1115.00" stroke="#222" stroke-width="1.0" stroke-dasharray="5 3.4"/>
<line x1="1419.30" y1="983.20" x2="1468.00" y2="983.20" stroke="#000" stroke-width="1.1" />
<path d="M1468.60 983.20 L1456.10 985.40 L1456.10 981.00 Z" fill="#000"/>
<rect x="1461.90" y="994.20" width="18.00" height="41.20" stroke="#222" stroke-width="1.1" fill="none"/>
<rect x="1466.20" y="1035.40" width="3.00" height="80.20" stroke="none" stroke-width="0" fill="#999"/>
<line x1="1466.20" y1="1035.40" x2="1466.20" y2="1115.60" stroke="#555" stroke-width="0.8" />
<line x1="1472.90" y1="1035.40" x2="1472.90" y2="1115.60" stroke="#000" stroke-width="1.9" />
<text x="1439.50" y="899.10" font-size="23" >A1</text>
<text x="1418.30" y="935.50" font-size="23" >X1</text>
<text x="1409.50" y="977.30" font-size="23" >Y1</text>
<rect x="1326.30" y="1144.00" width="263.70" height="154.60" stroke="#222" stroke-width="1.1" fill="none"/>
<line x1="1468.20" y1="1144.00" x2="1468.20" y2="1265.40" stroke="#222" stroke-width="1.1" />
<line x1="1468.20" y1="1265.40" x2="1590.00" y2="1265.40" stroke="#222" stroke-width="1.1" />
<line x1="1374.70" y1="1265.40" x2="1465.00" y2="1265.40" stroke="#222" stroke-width="1.1" />
<line x1="1378.50" y1="1182.60" x2="1378.50" y2="1264.00" stroke="#000" stroke-width="1.1" />
<path d="M1378.50 1264.80 L1376.30 1252.30 L1380.70 1252.30 Z" fill="#000"/>
<line x1="1412.00" y1="1244.20" x2="1465.00" y2="1244.20" stroke="#222" stroke-width="1.1" />
<line x1="1415.70" y1="1182.60" x2="1415.70" y2="1243.00" stroke="#000" stroke-width="1.1" />
<path d="M1415.70 1243.60 L1413.50 1231.10 L1417.90 1231.10 Z" fill="#000"/>
<line x1="1453.20" y1="1234.60" x2="1590.00" y2="1234.60" stroke="#222" stroke-width="1.0" stroke-dasharray="5 3.4"/>
<line x1="1456.80" y1="1182.60" x2="1456.80" y2="1232.60" stroke="#000" stroke-width="1.1" />
<path d="M1456.80 1233.40 L1454.60 1220.90 L1459.00 1220.90 Z" fill="#000"/>
<rect x="1468.20" y="1226.40" width="42.10" height="17.80" stroke="#222" stroke-width="1.1" fill="none"/>
<rect x="1510.30" y="1230.20" width="79.70" height="3.10" stroke="none" stroke-width="0" fill="#999"/>
<line x1="1510.30" y1="1230.20" x2="1590.00" y2="1230.20" stroke="#555" stroke-width="0.8" />
<line x1="1510.30" y1="1237.80" x2="1590.00" y2="1237.80" stroke="#000" stroke-width="1.9" />
<text x="0.00" y="0.00" font-size="23" transform="translate(1373.4,1231.8) rotate(-90)" >A2</text>
<text x="0.00" y="0.00" font-size="23" transform="translate(1410.2,1221.0) rotate(-90)" >X2</text>
<text x="0.00" y="0.00" font-size="23" transform="translate(1452.3,1207.0) rotate(-90)" >Y2</text>
</svg>
</body></html>
